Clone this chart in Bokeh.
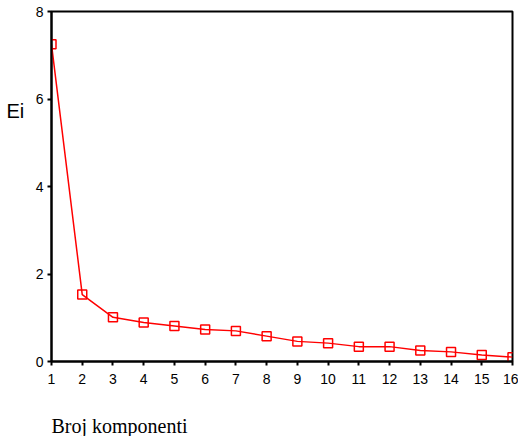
from bokeh.plotting import figure
from bokeh.models import Range1d, Label, FixedTicker
from bokeh.embed import file_html
from bokeh.resources import INLINE

components = list(range(1, 17))
eigenvalues = [7.25, 1.53, 1.01, 0.89, 0.81, 0.73, 0.70, 0.58, 0.46, 0.42, 0.34, 0.34, 0.25, 0.22, 0.15, 0.10]
y_ticks = [0, 2, 4, 6, 8]
x_label = "Broj komponenti"
y_label = "Ei"

p = figure(width=518, height=436, output_backend="svg", toolbar_location=None,
           x_range=Range1d(1, 16), y_range=Range1d(0, 8),
           min_border_left=51, min_border_right=6, min_border_top=11, min_border_bottom=75)
p.grid.visible = False
p.outline_line_color = "black"
p.outline_line_width = 2
p.background_fill_color = "white"
p.border_fill_color = "white"

for ax in (p.xaxis[0], p.yaxis[0]):
    ax.axis_line_width = 2
    ax.axis_line_color = "black"
    ax.major_tick_in = 0
    ax.major_tick_out = 4
    ax.major_tick_line_width = 2
    ax.minor_tick_line_color = None
    ax.major_label_text_font = "Liberation Sans"
    ax.major_label_text_font_size = "14px"
    ax.major_label_text_color = "black"

p.xaxis.ticker = FixedTicker(ticks=components)
p.yaxis.ticker = FixedTicker(ticks=y_ticks)
p.xaxis.major_label_standoff = 8
p.yaxis.major_label_standoff = 4

p.line(components, eigenvalues, line_color="red", line_width=1.5)
p.scatter(components, eigenvalues, marker="square", size=9, fill_color=None,
          line_color="red", line_width=1.5)

p.add_layout(Label(x=-8, y=251, x_units="screen", y_units="screen", text=y_label,
                   text_baseline="alphabetic",
                   text_font="Liberation Sans", text_font_size="20px", text_color="black"), "left")
p.add_layout(Label(x=0, y=-17, x_units="screen", y_units="screen", text=x_label,
                   text_baseline="alphabetic",
                   text_font="Liberation Serif", text_font_size="20px", text_color="black"), "below")

open("out.html", "w").write(file_html(p, INLINE))
